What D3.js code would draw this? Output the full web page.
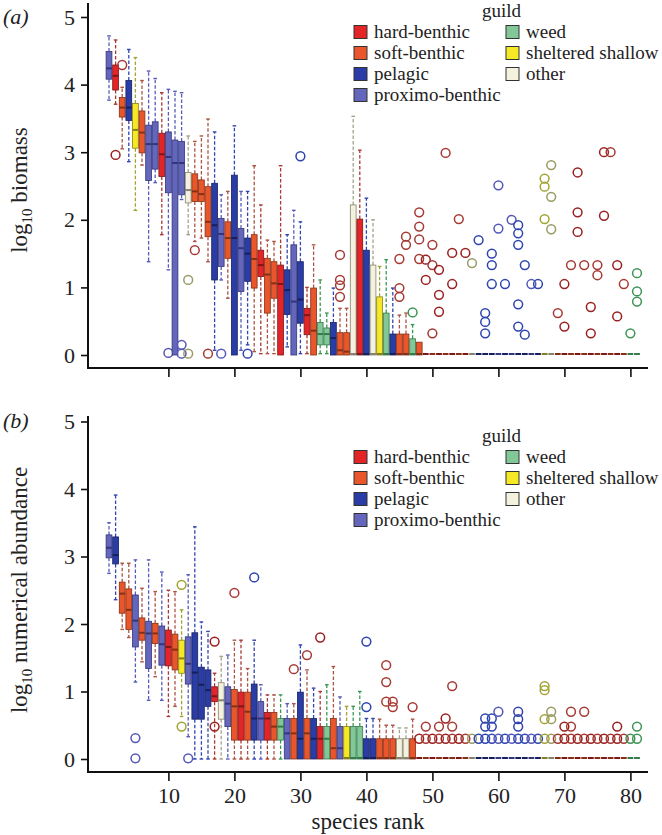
<!DOCTYPE html>
<html>
<head>
<meta charset="utf-8">
<script src="https://cdn.jsdelivr.net/npm/d3@7"></script>
<style>
body { margin: 0; background: #fff; }
svg text { font-family: 'Liberation Serif', 'Times New Roman', serif; fill: #222; }
</style>
</head>
<body>
<svg width="662" height="835"></svg>
<script>

// guild codes: H hard-benthic, S soft-benthic, G pelagic, P proximo-benthic, W weed, Y sheltered shallow, O other
var guildNames = ["hard-benthic", "soft-benthic", "pelagic", "proximo-benthic", "weed", "sheltered shallow", "other"];
var guildKeys  = ["H", "S", "G", "P", "W", "Y", "O"];
var xTicks = [10, 20, 30, 40, 50, 60, 70, 80];
var yTicks = [0, 1, 2, 3, 4, 5];

// ---- panel (a): log10 biomass, species ranks 1..81
var guildA = ["P","H","S","G","Y","S","P","P","H","P",
              "P","P","O","S","S","S","G","P","S","G",
              "P","G","S","H","S","S","H","G","P","G",
              "H","S","W","W","G","S","S","O","H","G",
              "O","Y","W","G","S","S","W","S","H","S",
              "H","S","H","S","H","O","G","G","G","P",
              "G","P","G","G","P","G","Y","O","S","H",
              "S","H","S","H","S","H","S","H","S","W",
              "W"];
var loA  = [3.77,3.71,3.05,2.86,2.14,2.81,1.38,2.55,1.78,1.26,
            0,2.30,1.78,1.68,1.73,1.38,0.07,1.11,0.84,0,
            0.07,0.15,0.05,0.02,0.02,0.02,0,0.12,0,0.02,
            0.02,0,0.02,0.02,0,0,0,0,0,0,
            0,0,0,0,0,0,0,0,0,0,
            0,0,0,0,0,0,0,0,0,0,
            0,0,0,0,0,0,0,0,0,0,
            0,0,0,0,0,0,0,0,0,0,
            0];
var q1A  = [4.08,3.92,3.52,3.47,3.06,2.99,2.58,2.75,2.64,2.40,
            0,2.37,2.25,2.27,2.27,1.75,1.11,1.31,1.43,0,
            0.94,1.09,0.99,1.16,0.62,0.84,0,0.60,0,0.47,
            0.30,0,0.15,0.15,0,0,0,0,0,0,
            0,0,0,0,0,0,0,0,0,0,
            0,0,0,0,0,0,0,0,0,0,
            0,0,0,0,0,0,0,0,0,0,
            0,0,0,0,0,0,0,0,0,0,
            0];
var medA = [4.24,4.13,3.66,3.66,3.33,3.29,3.12,3.12,2.97,2.93,
            2.84,2.84,2.44,2.42,2.38,1.97,1.92,1.79,1.73,1.73,
            1.58,1.50,1.42,1.33,1.19,1.06,1.05,0.96,0.79,0.82,
            0.59,0.36,0.31,0.31,0.25,0.07,0.05,0,0,0,
            0,0,0,0,0,0,0,0,0,0,
            0,0,0,0,0,0,0,0,0,0,
            0,0,0,0,0,0,0,0,0,0,
            0,0,0,0,0,0,0,0,0,0,
            0];
var q3A  = [4.49,4.29,3.81,4.06,3.72,3.61,3.40,3.45,3.28,3.30,
            3.18,3.16,2.70,2.68,2.59,2.49,2.54,2.02,1.97,2.66,
            1.87,1.73,1.78,1.55,1.43,1.38,1.33,1.26,1.63,1.38,
            0.69,0.99,0.48,0.40,0.48,0.33,0.33,2.22,2.01,1.55,
            1.33,0.86,0.62,0.31,0.31,0.31,0.24,0.19,0,0,
            0,0,0,0,0,0,0,0,0,0,
            0,0,0,0,0,0,0,0,0,0,
            0,0,0,0,0,0,0,0,0,0,
            0];
var hiA  = [4.72,4.66,3.96,4.52,4.40,4.06,4.20,4.09,3.88,3.93,
            3.90,3.88,3.24,3.16,3.24,3.49,3.30,2.37,2.42,3.39,
            2.42,2.42,2.80,2.22,1.70,1.68,2.80,1.78,2.14,1.97,
            1.00,1.63,1.11,0.62,0.99,0.69,0.69,3.53,3.03,2.32,
            2.00,1.31,1.41,0.99,0.59,0.62,0.45,0.19,0,0,
            0,0,0,0,0,0,0,0,0,0,
            0,0,0,0,0,0,0,0,0,0,
            0,0,0,0,0,0,0,0,0,0,
            0];
var outA = [[],[2.96],[4.29],[],[],[],[],[],[],[0.03],
            [],[0.15,0.02],[1.11,0.02],[1.55],[],[0.02],[],[0.02],[],[],
            [],[0.02],[],[],[],[],[],[],[],[2.94],
            [],[],[],[],[],[1.48,1.11,1.03,0.86],[],[],[],[],
            [],[],[],[],[1.42,0.99,0.86],[1.75,1.63],[0.63],[2.11,1.90,1.71,1.42],[1.41,1.11],[1.63,1.33,0.32],
            [1.26,0.89,0.64],[2.99],[1.51,1.05],[2.01],[1.51],[1.36],[1.70],[0.62,0.49,0.32],[1.50,1.33,1.05],[2.51,1.87],
            [1.05],[2.00],[1.92,1.80,1.63,0.75,0.42],[1.33,0.30],[1.05],[1.05],[2.61,2.49,2.01],[2.81,2.34,1.86],[0.62],[1.05,0.42],
            [1.33],[2.70,2.11,1.82],[1.33],[0.71,0.32],[1.33,1.18],[3.00,2.06],[3.00],[1.33,0.57],[1.05],[0.32],
            [1.21,0.94,0.79]];

// ---- panel (b): log10 numerical abundance
var guildB = ["P","G","S","S","P","S","P","S","P","H",
              "S","Y","P","G","G","G","H","O","P","S",
              "H","S","G","P","H","S","W","P","S","G",
              "S","G","H","W","S","P","Y","W","W","G",
              "G","S","S","S","O","O","S","H","S","H",
              "S","H","S","H","S","O","G","G","G","P",
              "G","P","G","G","P","G","Y","O","S","H",
              "S","H","S","H","S","H","S","H","S","W",
              "W"];
var loB  = [2.75,2.36,1.92,1.80,1.14,1.44,0.87,1.22,0.87,0.63,
            0.78,0.63,0.33,0,0,0,0,0,0,0,
            0,0,0,0,0,0,0,0,0,0,
            0,0,0,0,0,0,0,0,0,0,
            0,0,0,0,0,0,0,0,0,0,
            0,0,0,0,0,0,0,0,0,0,
            0,0,0,0,0,0,0,0,0,0,
            0,0,0,0,0,0,0,0,0,0,
            0];
var q1B  = [2.98,2.89,2.16,1.92,1.66,1.76,1.34,1.71,1.39,1.38,
            1.32,1.27,1.11,0.59,0.59,0.78,0.85,0.59,0.48,0.28,
            0.28,0.28,0.28,0.28,0.28,0.28,0.28,0,0,0,
            0,0,0,0,0,0,0,0,0,0,
            0,0,0,0,0,0,0,0,0,0,
            0,0,0,0,0,0,0,0,0,0,
            0,0,0,0,0,0,0,0,0,0,
            0,0,0,0,0,0,0,0,0,0,
            0];
var medB = [3.13,3.02,2.45,2.21,2.05,1.87,1.86,1.86,1.70,1.66,
            1.62,1.49,1.41,1.28,1.10,1.02,0.93,0.87,0.82,0.78,
            0.78,0.70,0.60,0.60,0.60,0.48,0.48,0.38,0.38,0.30,
            0.38,0.30,0.30,0.30,0.16,0.16,0,0,0,0,
            0,0,0,0,0,0,0,0,0,0,
            0,0,0,0,0,0,0,0,0,0,
            0,0,0,0,0,0,0,0,0,0,
            0,0,0,0,0,0,0,0,0,0,
            0];
var q3B  = [3.32,3.29,2.62,2.52,2.43,2.09,2.04,2.01,1.97,1.91,
            1.85,1.76,1.81,1.87,1.36,1.32,1.07,1.13,1.07,1.03,
            0.99,0.99,1.11,0.85,0.69,0.69,0.60,0.60,0.60,0.99,
            0.60,0.60,0.48,0.48,0.60,0.48,0.48,0.48,0.48,0.30,
            0.30,0.30,0.30,0.30,0.30,0.30,0.30,0,0,0,
            0,0,0,0,0,0,0,0,0,0,
            0,0,0,0,0,0,0,0,0,0,
            0,0,0,0,0,0,0,0,0,0,
            0];
var hiB  = [3.50,3.91,2.90,2.90,2.95,2.53,2.95,2.48,2.77,2.50,
            2.48,2.21,2.73,3.44,2.03,1.89,1.27,1.52,1.54,1.76,
            1.76,1.34,1.76,1.10,0.95,0.95,0.95,0.82,0.82,1.69,
            1.32,1.05,1.00,1.10,1.37,0.92,0.78,0.78,1.00,0.60,
            0.60,0.59,0.50,0.50,0.46,0.46,0.59,0,0,0,
            0,0,0,0,0,0,0,0,0,0,
            0,0,0,0,0,0,0,0,0,0,
            0,0,0,0,0,0,0,0,0,0,
            0];
var outB = [[],[],[],[],[0.31,0.01],[],[],[],[],[],
            [],[2.58,0.48],[0.01],[],[],[],[1.74,0.48],[],[],[2.46],
            [],[],[2.69],[],[],[],[],[],[1.33],[],
            [1.54],[],[1.80],[],[],[],[],[],[],[1.74,0.77],
            [],[],[1.39,1.14,0.85],[0.85,0.77],[],[],[0.77],[0.30],[0.48,0.30],[0.30],
            [0.48,0.30],[0.60,0.30],[1.08,0.48,0.30],[0.30],[0.30],[0.30],[0.30],[0.60,0.48,0.30],[0.60,0.48,0.30],[0.70,0.30],
            [0.30],[0.30],[0.70,0.59,0.48,0.30],[0.30],[0.30],[0.30],[1.08,1.02,0.59,0.30],[0.70,0.59,0.30],[0.30],[0.48,0.30],
            [0.70,0.48,0.30],[0.30],[0.70,0.30],[0.30],[0.30],[0.30],[0.30],[0.48,0.30],[0.30],[0.30],
            [0.48,0.30]];

var colors = {
  H: {fill: "#e42528", dark: "#7e1518", whisk: "#a83a34", out: "#9a2020"},
  S: {fill: "#e9562c", dark: "#853014", whisk: "#ad5444", out: "#a63a33"},
  G: {fill: "#2a3da6", dark: "#161f5e", whisk: "#3245b0", out: "#2e44ae"},
  P: {fill: "#6466bb", dark: "#33357a", whisk: "#575cba", out: "#5558b8"},
  W: {fill: "#82c797", dark: "#357a49", whisk: "#3b9854", out: "#3d9556"},
  Y: {fill: "#f7e825", dark: "#85801c", whisk: "#a2a236", out: "#a3a334"},
  O: {fill: "#f4f2de", dark: "#84846f", whisk: "#a4a48a", out: "#9a9a64"}
};

var svg = d3.select("svg");
var x = d3.scaleLinear().domain([1, 81]).range([109, 637]);
var bw = 5.8;
var serif = "'Liberation Serif', 'Times New Roman', serif";

function drawPanel(p) {
  var y = d3.scaleLinear().domain([0, 5]).range([p.y0, p.y5]);
  var g = svg.append("g");

  // axes
  var ya = g.append("g").attr("transform", "translate(88,0)")
      .call(d3.axisLeft(y).tickValues(yTicks).tickSize(7).tickPadding(6).tickFormat(d3.format("d")));
  ya.attr("font-family", null);
  ya.select(".domain").remove();
  ya.selectAll("line").attr("stroke", "#111").attr("stroke-width", 1.6);
  ya.selectAll("text").style("font-size", "22px").style("font-family", serif).attr("fill", "#222");

  var xa = g.append("g").attr("transform", "translate(0," + p.axisY + ")")
      .call(d3.axisBottom(x).tickValues(xTicks).tickSize(9).tickPadding(6)
        .tickFormat(p.labels ? d3.format("d") : ""));
  xa.attr("font-family", null);
  xa.select(".domain").remove();
  xa.selectAll("line").attr("stroke", "#111").attr("stroke-width", 1.6);
  xa.selectAll("text").style("font-size", "22px").style("font-family", serif).attr("fill", "#222");

  g.append("line").attr("x1", 88).attr("x2", 88).attr("y1", p.top).attr("y2", p.axisY + 1)
    .attr("stroke", "#111").attr("stroke-width", 2);
  g.append("line").attr("x1", 87).attr("x2", 648).attr("y1", p.axisY).attr("y2", p.axisY)
    .attr("stroke", "#111").attr("stroke-width", 2);

  var rows = p.guild.map(function(k, i) {
    return {rank: i + 1, k: k, lo: p.lo[i], q1: p.q1[i], med: p.med[i], q3: p.q3[i], hi: p.hi[i], out: p.out[i]};
  });

  var sp = g.selectAll("g.sp").data(rows).enter().append("g").attr("class", "sp");

  // whiskers
  sp.filter(function(d) { return d.hi > d.q3; }).each(function(d) {
    var s = d3.select(this), c = colors[d.k].whisk, cx = x(d.rank);
    s.append("line").attr("x1", cx).attr("x2", cx).attr("y1", y(d.q3)).attr("y2", y(d.hi))
      .attr("stroke", c).attr("stroke-width", 1.3).attr("stroke-dasharray", "3.5,2");
    s.append("line").attr("x1", cx - 1.8).attr("x2", cx + 1.8).attr("y1", y(d.hi)).attr("y2", y(d.hi))
      .attr("stroke", c).attr("stroke-width", 1.4);
  });
  sp.filter(function(d) { return d.lo < d.q1; }).each(function(d) {
    var s = d3.select(this), c = colors[d.k].whisk, cx = x(d.rank);
    s.append("line").attr("x1", cx).attr("x2", cx).attr("y1", y(d.q1)).attr("y2", y(d.lo))
      .attr("stroke", c).attr("stroke-width", 1.3).attr("stroke-dasharray", "3.5,2");
    s.append("line").attr("x1", cx - 1.8).attr("x2", cx + 1.8).attr("y1", y(d.lo)).attr("y2", y(d.lo))
      .attr("stroke", c).attr("stroke-width", 1.4);
  });

  // boxes
  sp.filter(function(d) { return d.q3 > d.q1; }).append("rect")
    .attr("x", function(d) { return x(d.rank) - bw / 2; })
    .attr("width", bw)
    .attr("y", function(d) { return y(d.q3); })
    .attr("height", function(d) { return y(d.q1) - y(d.q3); })
    .attr("fill", function(d) { return colors[d.k].fill; })
    .attr("stroke", function(d) { return colors[d.k].dark; })
    .attr("stroke-width", 0.8);

  // medians
  sp.append("line")
    .attr("x1", function(d) { return x(d.rank) - bw / 2; })
    .attr("x2", function(d) { return x(d.rank) + bw / 2; })
    .attr("y1", function(d) { return y(d.med) - (d.med === 0 ? 1 : 0); })
    .attr("y2", function(d) { return y(d.med) - (d.med === 0 ? 1 : 0); })
    .attr("stroke", function(d) { return colors[d.k].dark; })
    .attr("stroke-width", 2);

  // outliers
  sp.each(function(d) {
    d3.select(this).selectAll("circle").data(d.out).enter().append("circle")
      .attr("cx", x(d.rank)).attr("cy", function(v) { return y(v); }).attr("r", 4.4)
      .attr("fill", "none").attr("stroke", colors[d.k].out).attr("stroke-width", 1.5);
  });

  // panel letter
  g.append("text").attr("x", 3).attr("y", p.letterY).style("font-size", "22px")
    .style("font-family", serif).style("font-style", "italic").text("(" + p.letter + ")");

  // y label
  var yl = g.append("text").attr("transform", "translate(27," + p.labelY + ") rotate(-90)")
    .attr("text-anchor", "middle").style("font-size", "23px").style("font-family", serif);
  yl.append("tspan").text("log");
  yl.append("tspan").attr("dy", 5).style("font-size", "15px").text("10");
  yl.append("tspan").attr("dy", -5).text(" " + p.label);

  // legend
  var lg = g.append("g").attr("transform", "translate(0," + p.legY + ")");
  lg.append("text").attr("x", 482).attr("y", 17).style("font-size", "19px").style("font-family", serif).text("guild");
  guildKeys.forEach(function(k, i) {
    var col = i < 4 ? 0 : 1, row = i < 4 ? i : i - 4;
    var sx = col === 0 ? 354 : 506, cy = 32 + row * 21;
    lg.append("rect").attr("x", sx).attr("y", cy - 6.5).attr("width", 13).attr("height", 13)
      .attr("fill", colors[k].fill).attr("stroke", "#333").attr("stroke-width", 1);
    lg.append("text").attr("x", sx + 20).attr("y", cy + 5.5).style("font-size", "19px")
      .style("font-family", serif).text(guildNames[i]);
  });
}

drawPanel({y0: 355, y5: 17, axisY: 368, top: 3, labels: false,
  guild: guildA, lo: loA, q1: q1A, med: medA, q3: q3A, hi: hiA, out: outA,
  letter: "a", letterY: 24, label: "biomass", labelY: 190, legY: 0});

drawPanel({y0: 759, y5: 421.5, axisY: 772, top: 416, labels: true,
  guild: guildB, lo: loB, q1: q1B, med: medB, q3: q3B, hi: hiB, out: outB,
  letter: "b", letterY: 428, label: "numerical abundance", labelY: 590, legY: 425});

svg.append("text").attr("x", 368).attr("y", 829).attr("text-anchor", "middle")
  .style("font-size", "23px").style("font-family", serif).text("species rank");

</script>
</body>
</html>
